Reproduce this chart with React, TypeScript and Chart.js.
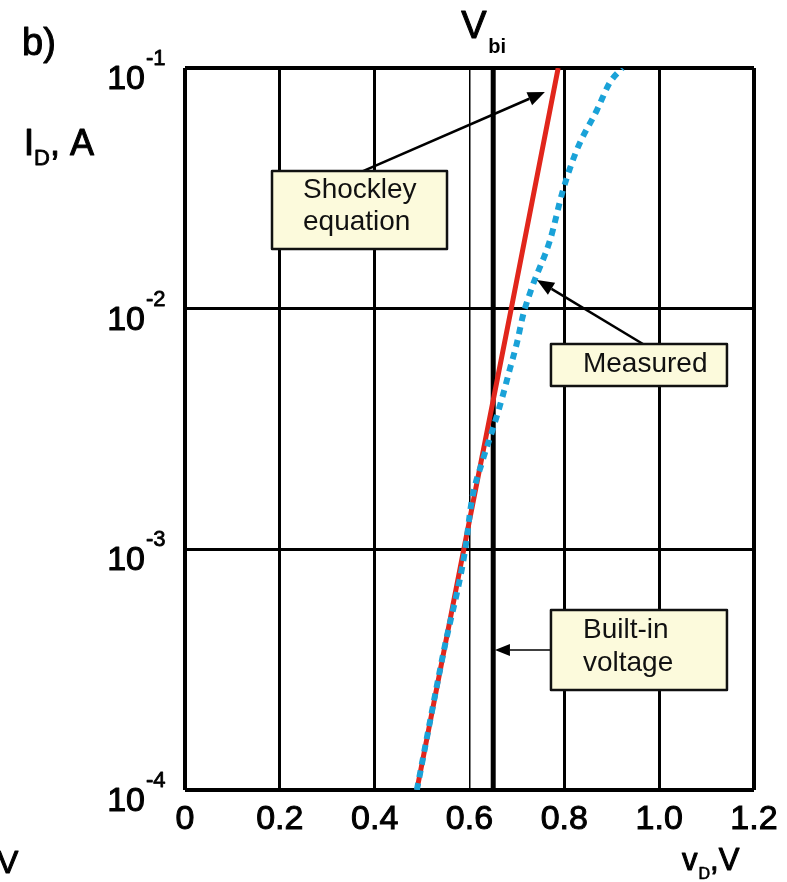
import React, { useEffect, useRef } from "react";
import { Chart, registerables } from "chart.js";

Chart.register(...registerables);

// ---------- data ----------
const xTickValues = [0, 0.2, 0.4, 0.6, 0.8, 1.0, 1.2];
const xTickLabels = ["0", "0.2", "0.4", "0.6", "0.8", "1.0", "1.2"];
const yTickValues = [1e-4, 1e-3, 1e-2, 1e-1];
const yTickExponents = ["-4", "-3", "-2", "-1"];

// Shockley equation (red, straight in semi-log)
const shockleyV = [0.489, 0.588, 0.688, 0.787];
const shockleyI = [1e-4, 1e-3, 1e-2, 1e-1];

// Measured (blue dotted)
const measuredV = [0.489, 0.546, 0.59, 0.605, 0.628, 0.65, 0.668, 0.685, 0.7, 0.713, 0.732, 0.77, 0.797, 0.827, 0.869, 0.896, 0.922];
const measuredI = [1e-4, 3.8e-4, 9.7e-4, 1.6e-3, 2.35e-3, 3.2e-3, 4.2e-3, 5.6e-3, 7.2e-3, 9.4e-3, 1.23e-2, 1.93e-2, 3.1e-2, 4.6e-2, 6.7e-2, 8.7e-2, 0.1];

// Built-in voltage
const builtInV = 0.65;
const builtInI = [1e-4, 1e-1];

// Annotation callouts (anchored in data units)
const calloutLines = [["Shockley", "equation"], ["Measured"], ["Built-in", "voltage"]];
const calloutBoxV = [0.1835, 0.7718, 0.7718];
const calloutBoxI = [0.0373, 7.13e-3, 5.6e-4];
const calloutFromV = [0.3754, 0.9658, 0.7718];
const calloutFromI = [0.0373, 7.13e-3, 3.82e-4];
const calloutToV = [0.759, 0.7423, 0.6537];
const calloutToI = [0.0795, 0.01315, 3.82e-4];

const FONT = "'Liberation Sans', Arial, Helvetica, sans-serif";
const RED = "#e1261c";
const BLUE = "#1aa2d8";
const CREAM = "#fcfadc";

function arrow(ctx: CanvasRenderingContext2D, x1: number, y1: number, x2: number, y2: number, lw: number, len: number, hw: number) {
  const a = Math.atan2(y2 - y1, x2 - x1);
  const bx = x2 - len * Math.cos(a);
  const by = y2 - len * Math.sin(a);
  ctx.save();
  ctx.strokeStyle = "#000";
  ctx.fillStyle = "#000";
  ctx.lineWidth = lw;
  ctx.beginPath();
  ctx.moveTo(x1, y1);
  ctx.lineTo(bx, by);
  ctx.stroke();
  ctx.beginPath();
  ctx.moveTo(x2, y2);
  ctx.lineTo(bx + hw * Math.sin(a), by - hw * Math.cos(a));
  ctx.lineTo(bx - hw * Math.sin(a), by + hw * Math.cos(a));
  ctx.closePath();
  ctx.fill();
  ctx.restore();
}

function heavyText(ctx: CanvasRenderingContext2D, t: string, x: number, y: number, sw: number) {
  ctx.fillText(t, x, y);
  if (sw > 0) {
    ctx.lineWidth = sw;
    ctx.strokeStyle = ctx.fillStyle as string;
    ctx.strokeText(t, x, y);
  }
}

const boxSizes = [
  { w: 175, h: 78, tx: 31, base: [27, 59], arrowLw: 2.5, len: 17, hw: 7 },
  { w: 176, h: 42, tx: 32, base: [28], arrowLw: 2.5, len: 17, hw: 7 },
  { w: 176, h: 80, tx: 32, base: [28, 61], arrowLw: 1.5, len: 15, hw: 6 },
];

const decorPlugin = {
  id: "decor",
  afterDraw(chart: any) {
    const ctx: CanvasRenderingContext2D = chart.ctx;
    const xs = chart.scales.x;
    const ys = chart.scales.y;
    const area = chart.chartArea;
    ctx.save();
    ctx.fillStyle = "#000";
    ctx.textBaseline = "alphabetic";
    ctx.lineJoin = "round";

    // y tick labels 10^n
    yTickValues.forEach((v, i) => {
      const py = ys.getPixelForValue(v);
      ctx.font = `34px ${FONT}`;
      ctx.textAlign = "right";
      heavyText(ctx, "10", area.left - 40, py + 21, 1);
      ctx.font = `22px ${FONT}`;
      ctx.textAlign = "left";
      heavyText(ctx, yTickExponents[i], area.left - 39, py - 3, 0.8);
    });

    ctx.textAlign = "left";
    // b)
    ctx.font = `38px ${FONT}`;
    heavyText(ctx, "b)", 22, 55, 1);
    // I_D, A
    ctx.font = `36px ${FONT}`;
    heavyText(ctx, "I", 24, 155, 1.2);
    let w = ctx.measureText("I").width;
    ctx.font = `22px ${FONT}`;
    heavyText(ctx, "D", 24 + w, 165, 0.8);
    const wd = ctx.measureText("D").width;
    ctx.font = `36px ${FONT}`;
    heavyText(ctx, ", A", 24 + w + wd, 155, 1);
    // V_bi
    const vbx = xs.getPixelForValue(builtInV);
    ctx.font = `38px ${FONT}`;
    heavyText(ctx, "V", vbx - 32, 38, 1);
    ctx.font = `bold 20px ${FONT}`;
    heavyText(ctx, "bi", vbx - 5, 53, 0);
    // v_D, V
    ctx.font = `31px ${FONT}`;
    heavyText(ctx, "v", 682, 870, 1);
    w = ctx.measureText("v").width;
    ctx.font = `16px ${FONT}`;
    heavyText(ctx, "D", 682 + w + 1, 879, 0.6);
    const wd2 = ctx.measureText("D").width;
    ctx.font = `31px ${FONT}`;
    heavyText(ctx, ",V", 682 + w + 1 + wd2, 870, 1);
    // cut-off V at the bottom-left
    ctx.font = `32px ${FONT}`;
    heavyText(ctx, "V", -3, 873, 1);

    // callouts
    calloutLines.forEach((lines, i) => {
      const s = boxSizes[i];
      const fx = xs.getPixelForValue(calloutFromV[i]);
      const fy = ys.getPixelForValue(calloutFromI[i]);
      const tx = xs.getPixelForValue(calloutToV[i]);
      const ty = ys.getPixelForValue(calloutToI[i]);
      arrow(ctx, fx, fy, tx, ty, s.arrowLw, s.len, s.hw);
      const bx = xs.getPixelForValue(calloutBoxV[i]);
      const by = ys.getPixelForValue(calloutBoxI[i]);
      ctx.fillStyle = CREAM;
      ctx.fillRect(bx, by, s.w, s.h);
      ctx.strokeStyle = "#111";
      ctx.lineWidth = 2.5;
      ctx.strokeRect(bx, by, s.w, s.h);
      ctx.fillStyle = "#111";
      ctx.font = `28px ${FONT}`;
      ctx.textAlign = "left";
      lines.forEach((t, j) => ctx.fillText(t, bx + s.tx, by + s.base[j]));
    });
    ctx.restore();
  },
};

function near(a: number, b: number) {
  return Math.abs(a - b) < 1e-9 * Math.max(1, Math.abs(b));
}

export default function App() {
  const ref = useRef<HTMLCanvasElement | null>(null);
  useEffect(() => {
    if (!ref.current) return;
    const chart = new Chart(ref.current, {
      type: "line",
      data: {
        datasets: [
          {
            label: "Measured",
            data: measuredV.map((v, i) => ({ x: v, y: measuredI[i] })),
            borderColor: BLUE,
            borderWidth: 6,
            borderDash: [7, 6],
            borderCapStyle: "butt",
            cubicInterpolationMode: "monotone",
            pointRadius: 0,
            fill: false,
            order: 0,
          },
          {
            label: "Shockley equation",
            data: shockleyV.map((v, i) => ({ x: v, y: shockleyI[i] })),
            borderColor: RED,
            borderWidth: 5,
            tension: 0,
            pointRadius: 0,
            fill: false,
            order: 1,
          },
          {
            label: "Vbi",
            data: builtInI.map((y) => ({ x: builtInV, y })),
            borderColor: "#000",
            borderWidth: 5,
            pointRadius: 0,
            fill: false,
            order: 2,
          },
        ],
      },
      options: {
        animation: false,
        responsive: false,
        devicePixelRatio: 1,
        layout: { padding: { left: 0, top: 68, right: 33, bottom: 0 } },
        plugins: { legend: { display: false }, tooltip: { enabled: false } },
        scales: {
          x: {
            type: "linear",
            min: 0,
            max: 1.2,
            afterBuildTicks: (s: any) => {
              s.ticks = xTickValues.map((value) => ({ value }));
            },
            afterFit: (s: any) => {
              s.height = 92;
              s.paddingLeft = 0;
              s.paddingRight = 0;
            },
            border: { display: false },
            grid: {
              color: "#000",
              drawTicks: false,
              lineWidth: (c: any) => {
                const v = c.tick ? c.tick.value : 0;
                if (near(v, 0) || near(v, 1.2)) return 4;
                if (near(v, 0.6)) return 1.5;
                return 3;
              },
            },
            ticks: {
              autoSkip: false,
              maxRotation: 0,
              minRotation: 0,
              padding: 9,
              color: "#000",
              textStrokeColor: "#000",
              textStrokeWidth: 1,
              font: { family: FONT, size: 34 },
              callback: (_v: any, i: number) => xTickLabels[i],
            },
          },
          y: {
            type: "logarithmic",
            min: 1e-4,
            max: 1e-1,
            afterBuildTicks: (s: any) => {
              s.ticks = yTickValues.map((value) => ({ value }));
            },
            afterFit: (s: any) => {
              s.width = 185;
              s.paddingTop = 0;
              s.paddingBottom = 0;
            },
            border: { display: false },
            grid: {
              color: "#000",
              drawTicks: false,
              lineWidth: (c: any) => {
                const v = c.tick ? c.tick.value : 0;
                if (near(v, 1e-4) || near(v, 1e-1)) return 4;
                return 3;
              },
            },
            ticks: { display: false },
          },
        },
      },
      plugins: [decorPlugin],
    } as any);
    return () => chart.destroy();
  }, []);
  return (
    <div style={{ position: "absolute", left: 0, top: 0, width: 787, height: 882, background: "#fff" }}>
      <canvas ref={ref} width={787} height={882} style={{ display: "block" }} />
    </div>
  );
}
